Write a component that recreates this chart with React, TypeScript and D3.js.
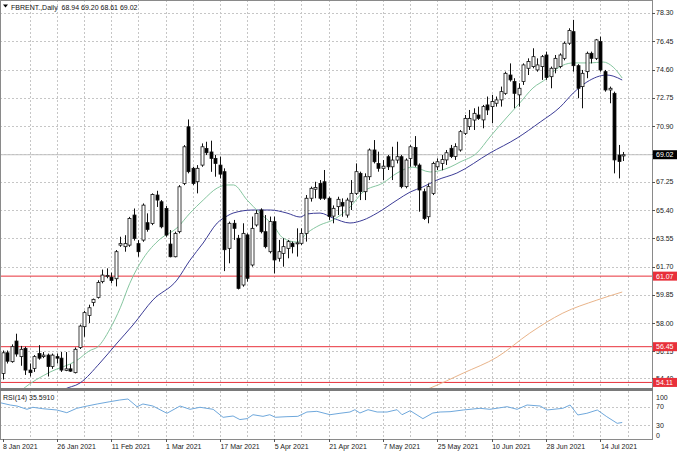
import { useEffect, useRef } from 'react';
import * as d3 from 'd3';

// daily bars, 8 Jan 2021 .. 21 Jul 2021 (index 0 = 8 Jan)
const opens = [
  54.7, 56.05, 55.47, 56.82, 55.8, 56.34, 54.92, 55.03, 56.0, 55.8,
  55.9, 55.15, 55.8, 55.7, 54.9, 55.0, 54.75, 56.4, 57.76, 58.5,
  59.35, 59.68, 60.71, 61.08, 61.0, 60.9, 63.1, 63.0, 63.1, 65.07,
  63.2, 63.43, 64.57, 64.52, 66.38, 65.94, 65.5, 63.17, 62.34, 63.98,
  67.14, 70.85, 68.13, 67.25, 68.34, 69.43, 69.2, 68.78, 68.34, 67.91,
  62.89, 64.53, 63.55, 60.49, 63.77, 61.8, 64.42, 65.4, 63.98, 62.67,
  64.64, 62.24, 62.56, 62.89, 63.22, 63.2, 63.22, 63.87, 66.17, 66.76,
  67.14, 67.25, 66.17, 65.0, 65.62, 65.9, 65.07, 65.94, 66.49, 67.8,
  66.6, 67.58, 69.33, 68.45, 68.13, 68.89, 68.23, 68.67, 68.89, 66.93,
  68.78, 69.5, 68.34, 66.6, 64.96, 66.49, 68.23, 68.45, 68.68, 69.44,
  68.9, 69.33, 70.42, 70.86, 71.29, 71.62, 71.3, 72.28, 72.17, 72.39,
  72.61, 73.04, 74.24, 73.81, 72.94, 73.81, 74.68, 74.79, 74.57, 74.79,
  75.55, 74.13, 74.68, 74.79, 75.33, 76.32, 77.08, 74.85, 73.48, 74.46,
  75.66, 75.33, 76.43, 74.46, 73.26, 73.04, 69.0, 68.94,
];
const highs = [
  56.2, 56.2, 56.6, 57.3, 56.5, 56.45, 55.35, 55.9, 56.55, 56.1,
  56.0, 56.0, 56.0, 56.1, 56.1, 55.3, 56.4, 57.9, 58.8, 59.2,
  59.6, 60.8, 61.5, 61.58, 61.3, 62.78, 63.65, 63.75, 64.95, 65.5,
  63.43, 65.83, 65.18, 66.49, 66.66, 66.05, 65.66, 64.09, 63.98, 67.03,
  69.65, 71.33, 68.23, 68.34, 69.76, 69.87, 69.94, 69.0, 68.89, 68.13,
  64.64, 64.75, 63.77, 64.53, 63.87, 64.97, 65.4, 65.51, 65.07, 64.97,
  64.97, 63.44, 63.55, 63.44, 63.33, 64.2, 64.2, 66.38, 66.93, 67.25,
  67.36, 68.02, 66.28, 65.7, 66.27, 66.16, 66.2, 67.36, 68.45, 67.91,
  67.8, 69.43, 69.98, 69.22, 68.67, 69.0, 69.54, 69.87, 69.0, 68.78,
  69.65, 70.24, 68.45, 66.8, 67.14, 68.56, 68.78, 69.0, 69.33, 69.66,
  69.77, 70.64, 71.62, 71.95, 72.06, 72.17, 72.28, 72.83, 72.94, 72.83,
  73.48, 74.46, 75.0, 74.03, 73.7, 75.0, 75.33, 75.99, 75.33, 75.55,
  75.77, 74.79, 75.55, 75.66, 76.43, 77.3, 77.85, 74.95, 74.57, 75.77,
  75.77, 76.6, 76.75, 74.57, 73.48, 73.15, 69.66, 69.2,
];
const lows = [
  54.3, 55.35, 55.4, 55.8, 55.2, 54.6, 54.5, 54.8, 55.6, 55.7,
  54.5, 55.0, 55.35, 54.8, 54.85, 54.8, 54.7, 56.3, 57.1, 58.0,
  59.1, 59.6, 60.6, 60.93, 60.6, 60.4, 62.99, 62.67, 62.99, 63.4,
  62.34, 63.32, 63.98, 64.41, 65.6, 64.2, 63.65, 62.3, 62.3, 63.87,
  67.03, 67.8, 67.03, 66.49, 68.23, 69.0, 67.9, 67.58, 67.47, 61.4,
  61.91, 63.44, 60.2, 60.38, 60.71, 61.69, 64.31, 63.87, 62.89, 62.56,
  61.25, 62.02, 61.69, 62.24, 62.56, 62.35, 63.11, 63.33, 65.95, 66.17,
  66.06, 66.06, 64.75, 64.53, 65.07, 64.96, 64.9, 65.4, 66.38, 66.05,
  66.05, 67.36, 68.45, 67.91, 67.36, 68.02, 67.36, 68.45, 66.82, 66.82,
  68.23, 68.23, 65.29, 64.75, 64.53, 66.38, 68.02, 68.0, 68.35, 68.8,
  68.68, 69.22, 70.31, 70.64, 70.64, 71.3, 70.75, 71.62, 71.08, 72.17,
  72.17, 72.94, 73.81, 72.06, 72.17, 73.59, 74.24, 74.68, 74.46, 73.92,
  73.92, 73.37, 74.35, 74.68, 75.2, 76.21, 74.46, 72.72, 72.06, 74.03,
  75.0, 75.22, 74.46, 73.15, 72.39, 67.8, 67.47, 68.61,
];
const closes = [
  56.05, 55.5, 56.45, 55.97, 56.28, 54.92, 54.75, 55.8, 55.7, 55.9,
  55.15, 55.9, 55.7, 54.92, 55.0, 54.85, 56.28, 57.8, 58.68, 59.0,
  59.55, 60.66, 61.14, 61.12, 60.78, 62.67, 63.2, 63.2, 64.85, 63.54,
  62.67, 65.72, 64.13, 66.42, 66.05, 64.3, 63.76, 62.34, 63.87, 66.92,
  69.54, 67.91, 67.14, 68.13, 69.54, 69.15, 68.78, 68.45, 67.75, 62.8,
  64.53, 64.2, 60.27, 63.87, 60.93, 64.2, 65.18, 63.98, 63.0, 64.64,
  62.13, 62.67, 63.0, 63.33, 63.0, 63.25, 63.87, 66.17, 66.82, 66.87,
  66.17, 66.17, 64.97, 65.51, 66.1, 65.66, 66.05, 66.49, 67.91, 66.6,
  67.58, 69.33, 68.56, 68.13, 68.27, 68.23, 68.67, 68.89, 66.93, 68.67,
  69.54, 68.34, 66.71, 64.85, 66.93, 68.45, 68.56, 68.7, 69.15, 68.9,
  69.55, 70.53, 71.4, 71.4, 71.73, 71.4, 72.17, 71.95, 72.5, 72.61,
  73.15, 74.35, 73.92, 73.04, 73.37, 74.9, 75.12, 75.44, 74.9, 75.44,
  74.08, 74.68, 75.33, 75.55, 76.32, 77.15, 74.85, 73.37, 74.35, 75.66,
  75.33, 76.54, 74.57, 73.26, 73.37, 68.68, 68.57, 69.02,
];

// moving averages, read at sample bars
const fastMaBars = [3, 4.5, 10.5, 16.4, 19.3, 21, 23.7, 26, 28.1, 31, 34.8, 38.5, 41.4, 44.3, 47.4, 49.6, 51, 54, 56.8, 59.7, 61.9, 65, 67.2, 70.1, 72.9, 76.7, 79.6, 84, 87.1, 90.6, 94.4, 98.8, 101, 104.7, 107.6, 111.4, 114.2, 117.1, 120.2, 121.5, 126, 129.7, 132.6, 134.8, 136.8];
const fastMaValues = [53.3, 53.68, 54.79, 55.55, 56.2, 56.43, 57.6, 59.0, 60.6, 62.2, 63.5, 64.22, 65.2, 66.05, 66.84, 67.04, 67.04, 66.05, 65.2, 64.42, 63.57, 63.3, 63.89, 64.42, 64.74, 65.59, 66.58, 67.17, 67.82, 68.21, 67.89, 68.21, 68.54, 69.13, 70.18, 71.49, 72.41, 73.39, 74.04, 74.44, 75.03, 75.03, 75.09, 74.76, 74.04];
const slowMaBars = [12, 13.4, 17.1, 21.5, 25.3, 28.8, 33.2, 38.5, 41.4, 44.3, 47.4, 49.6, 50.9, 55.3, 59.1, 62.8, 65.7, 67.2, 70.1, 73, 76.7, 79.6, 82.7, 87.1, 90, 92.8, 95.9, 100.3, 107.6, 113.6, 118.7, 123.1, 126, 129, 133.4, 134.8, 136.8];
const slowMaValues = [53.3, 53.61, 54.07, 55.38, 56.69, 57.87, 59.51, 60.81, 62.12, 63.24, 64.55, 65.01, 65.2, 65.4, 65.4, 65.2, 64.94, 65.14, 65.2, 64.87, 64.55, 64.74, 65.2, 66.05, 66.58, 66.91, 67.36, 67.82, 69.13, 70.11, 71.16, 72.14, 73.06, 73.78, 74.24, 74.17, 73.91];
const longMaBars = [90, 93.3, 94.4, 101.7, 109.2, 116.4, 123.7, 131.2, 136.8];
const longMaValues = [53.3, 53.61, 53.74, 54.72, 55.77, 57.34, 58.65, 59.5, 60.03];

// RSI(14), read at sample bars
const rsiBars = [-0.5, 1.7, 3.2, 5.4, 6.7, 8.9, 12, 14.2, 16.4, 18.7, 20.9, 23.7, 25.9, 27.7, 29.7, 31, 33.2, 36.3, 39.2, 41.4, 43.6, 46.5, 48.7, 50.9, 52.4, 54, 55.3, 57.5, 59, 60.2, 62.8, 65.2, 67.2, 69.4, 72.3, 74.5, 76.7, 77.8, 78.9, 80.7, 82.7, 84.9, 87.1, 88.2, 90, 92.8, 95, 96.6, 98.8, 101.7, 105.4, 107.6, 111.4, 113.6, 115.8, 118.7, 120.2, 123.7, 125.3, 127, 129, 131.3, 133.4, 135.7, 136.8];
const rsiValues = [78.8, 73.8, 71.6, 64.4, 68.8, 65.7, 62.9, 57.0, 66.6, 71.6, 76.0, 81.0, 84.7, 86.9, 70.1, 76.0, 71.6, 55.7, 71.6, 64.4, 68.8, 64.4, 46.9, 49.8, 42, 44, 52.6, 49, 52.6, 47, 48.3, 49, 58.5, 60, 52.6, 55.7, 58.5, 63.5, 56.3, 63.5, 58.5, 58.5, 63.5, 52.6, 61.4, 44, 56.3, 58.5, 59.2, 62.9, 66.6, 64.4, 70.1, 64.4, 73.8, 71.6, 62.9, 66.6, 73.8, 52.0, 55.7, 62.9, 48.3, 33.8, 35.6];

const dateLabels = ['8 Jan 2021', '26 Jan 2021', '11 Feb 2021', '1 Mar 2021', '17 Mar 2021', '5 Apr 2021', '21 Apr 2021', '7 May 2021', '25 May 2021', '10 Jun 2021', '28 Jun 2021', '14 Jul 2021'];
const priceTicks = [78.30, 76.45, 74.60, 72.75, 70.90, 69.05, 67.25, 65.40, 63.55, 61.70, 59.85, 58.00, 56.15, 54.40];
const redLevels = [61.07, 56.45, 54.11];
const lastPrice = 69.02;
const rsiTicks = [100, 70, 30, 0];

const FONT = '"Liberation Sans", Arial, sans-serif';

export default function App() {
  const ref = useRef<SVGSVGElement>(null);

  useEffect(() => {
    if (!ref.current) return;
    const svg = d3.select(ref.current);
    svg.selectAll('*').remove();

    const W = 680, H = 453;
    const right = 652;      // right edge of the panes
    const mainBottom = 388; // bottom of price pane
    const rsiTop = 391, rsiBottom = 439;

    const x = d3.scaleLinear().domain([0, 137]).range([2.5, 623.1]);
    const y = d3.scaleLinear().domain([53.68, 79.151]).range([389, 0]);
    const yr = d3.scaleLinear().domain([0, 100]).range([438.8, 393]);

    svg.attr('width', W).attr('height', H);
    svg.append('rect').attr('width', W).attr('height', H).attr('fill', '#fff');

    const defs = svg.append('defs');
    defs.append('clipPath').attr('id', 'mainClip')
      .append('rect').attr('x', 0).attr('y', 0).attr('width', right).attr('height', mainBottom);
    defs.append('clipPath').attr('id', 'rsiClip')
      .append('rect').attr('x', 0).attr('y', rsiTop).attr('width', right).attr('height', rsiBottom - rsiTop);

    // grid
    const grid = svg.append('g')
      .attr('stroke', '#c6c6c6')
      .attr('stroke-width', 1)
      .attr('stroke-dasharray', '2,2');
    const vBars = d3.range(6, 139, 6);
    grid.selectAll('.vg').data(vBars).join('line')
      .attr('x1', d => Math.round(x(d)) + 0.5).attr('x2', d => Math.round(x(d)) + 0.5)
      .attr('y1', 0).attr('y2', mainBottom);
    grid.selectAll('.vr').data(vBars).join('line')
      .attr('x1', d => Math.round(x(d)) + 0.5).attr('x2', d => Math.round(x(d)) + 0.5)
      .attr('y1', rsiTop).attr('y2', rsiBottom);
    grid.selectAll('.hg').data(priceTicks).join('line')
      .attr('x1', 0).attr('x2', right)
      .attr('y1', d => Math.round(y(d)) + 0.5).attr('y2', d => Math.round(y(d)) + 0.5);
    grid.selectAll('.hr').data([70, 30]).join('line')
      .attr('x1', 0).attr('x2', right)
      .attr('y1', d => Math.round(yr(d)) + 0.5).attr('y2', d => Math.round(yr(d)) + 0.5);

    const main = svg.append('g').attr('clip-path', 'url(#mainClip)');

    // last price line
    main.append('line')
      .attr('x1', 0).attr('x2', right)
      .attr('y1', y(lastPrice)).attr('y2', y(lastPrice))
      .attr('stroke', '#c0c0c0').attr('stroke-width', 1);

    // horizontal levels
    main.selectAll('.lvl').data(redLevels).join('line')
      .attr('x1', 0).attr('x2', right)
      .attr('y1', d => y(d)).attr('y2', d => y(d))
      .attr('stroke', '#e8303a').attr('stroke-width', 1);

    // moving averages
    const maLine = d3.line<[number, number]>()
      .x(d => x(d[0])).y(d => y(d[1]))
      .curve(d3.curveMonotoneX);
    const mas: [number[], number[], string][] = [
      [longMaBars, longMaValues, '#e9b48a'],
      [slowMaBars, slowMaValues, '#3c3c96'],
      [fastMaBars, fastMaValues, '#86c6a0'],
    ];
    mas.forEach(([bars, vals, color]) => {
      main.append('path')
        .datum(bars.map((b, i) => [b, vals[i]] as [number, number]))
        .attr('d', maLine)
        .attr('fill', 'none')
        .attr('stroke', color)
        .attr('stroke-width', 1);
    });

    // candles
    const idx = d3.range(opens.length);
    main.selectAll('.wick').data(idx).join('line')
      .attr('x1', i => Math.round(x(i)) + 0.5).attr('x2', i => Math.round(x(i)) + 0.5)
      .attr('y1', i => y(highs[i])).attr('y2', i => y(lows[i]))
      .attr('stroke', '#111').attr('stroke-width', 1);
    main.selectAll('.body').data(idx).join('rect')
      .attr('x', i => Math.round(x(i)) - 1)
      .attr('width', 3)
      .attr('y', i => y(Math.max(opens[i], closes[i])))
      .attr('height', i => Math.max(1, Math.abs(y(opens[i]) - y(closes[i]))))
      .attr('fill', i => (closes[i] >= opens[i] ? '#fff' : '#000'))
      .attr('stroke', '#111')
      .attr('stroke-width', 0.8);

    // RSI
    const rsiLine = d3.line<[number, number]>()
      .x(d => x(d[0])).y(d => yr(d[1]));
    svg.append('g').attr('clip-path', 'url(#rsiClip)')
      .append('path')
      .datum(rsiBars.map((b, i) => [b, rsiValues[i]] as [number, number]))
      .attr('d', rsiLine)
      .attr('fill', 'none')
      .attr('stroke', '#6fa8dc')
      .attr('stroke-width', 1);

    // frames
    svg.append('rect')
      .attr('x', 0.5).attr('y', 0.5).attr('width', right).attr('height', rsiBottom)
      .attr('fill', 'none').attr('stroke', '#8a8a8a').attr('stroke-width', 1);
    svg.append('rect')
      .attr('x', 0).attr('y', mainBottom).attr('width', right + 1).attr('height', 3)
      .attr('fill', '#7a7a7a');

    // price axis
    const axis = svg.append('g').style('font-family', FONT).style('font-size', '7px');
    axis.selectAll('.tk').data(priceTicks).join('line')
      .attr('x1', right).attr('x2', right + 3)
      .attr('y1', d => Math.round(y(d)) + 0.5).attr('y2', d => Math.round(y(d)) + 0.5)
      .attr('stroke', '#555');
    axis.selectAll('.pl').data(priceTicks).join('text')
      .attr('x', right + 4).attr('y', d => y(d) + 2.5)
      .attr('fill', '#222')
      .text(d => d.toFixed(2));

    const boxes: [number, string][] = [
      ...redLevels.map(v => [v, '#e8303a'] as [number, string]),
      [lastPrice, '#000'],
    ];
    boxes.forEach(([v, color]) => {
      axis.append('rect')
        .attr('x', right + 1).attr('y', y(v) - 4.5)
        .attr('width', 24).attr('height', 9)
        .attr('fill', color);
      axis.append('text')
        .attr('x', right + 4).attr('y', y(v) + 2.5)
        .attr('fill', '#fff')
        .text(v.toFixed(2));
    });

    // RSI axis
    axis.selectAll('.rl').data(rsiTicks).join('text')
      .attr('x', right + 4)
      .attr('y', d => Math.min(Math.max(yr(d), 397), 435) + 2.5)
      .attr('fill', '#222')
      .text(d => String(d));

    // date axis
    const dateG = svg.append('g').style('font-family', FONT).style('font-size', '7px');
    dateG.selectAll('line').data(dateLabels).join('line')
      .attr('x1', (_, k) => Math.round(x(k * 12)) + 0.5).attr('x2', (_, k) => Math.round(x(k * 12)) + 0.5)
      .attr('y1', rsiBottom).attr('y2', rsiBottom + 3)
      .attr('stroke', '#555');
    dateG.selectAll('text').data(dateLabels).join('text')
      .attr('x', (_, k) => x(k * 12) + 0.5)
      .attr('y', 448.5)
      .attr('fill', '#222')
      .text(d => d);

    // titles
    svg.append('path')
      .attr('d', 'M3,4.5 L8,4.5 L5.5,7.5 Z')
      .attr('fill', '#000');
    svg.append('text')
      .attr('x', 11).attr('y', 9.5)
      .style('font-family', FONT).style('font-size', '7px')
      .style('white-space', 'pre')
      .attr('fill', '#111')
      .text(`FBRENT.,Daily  ${opens[137].toFixed(2)} ${highs[137].toFixed(2)} ${lows[137].toFixed(2)} ${closes[137].toFixed(2)}`);
    svg.append('text')
      .attr('x', 3).attr('y', 399.5)
      .style('font-family', FONT).style('font-size', '7px')
      .attr('fill', '#111')
      .text('RSI(14) 35.5910');
  }, []);

  return (
    <svg ref={ref} style={{ position: 'absolute', left: 0, top: 0, display: 'block' }}></svg>
  );
}
